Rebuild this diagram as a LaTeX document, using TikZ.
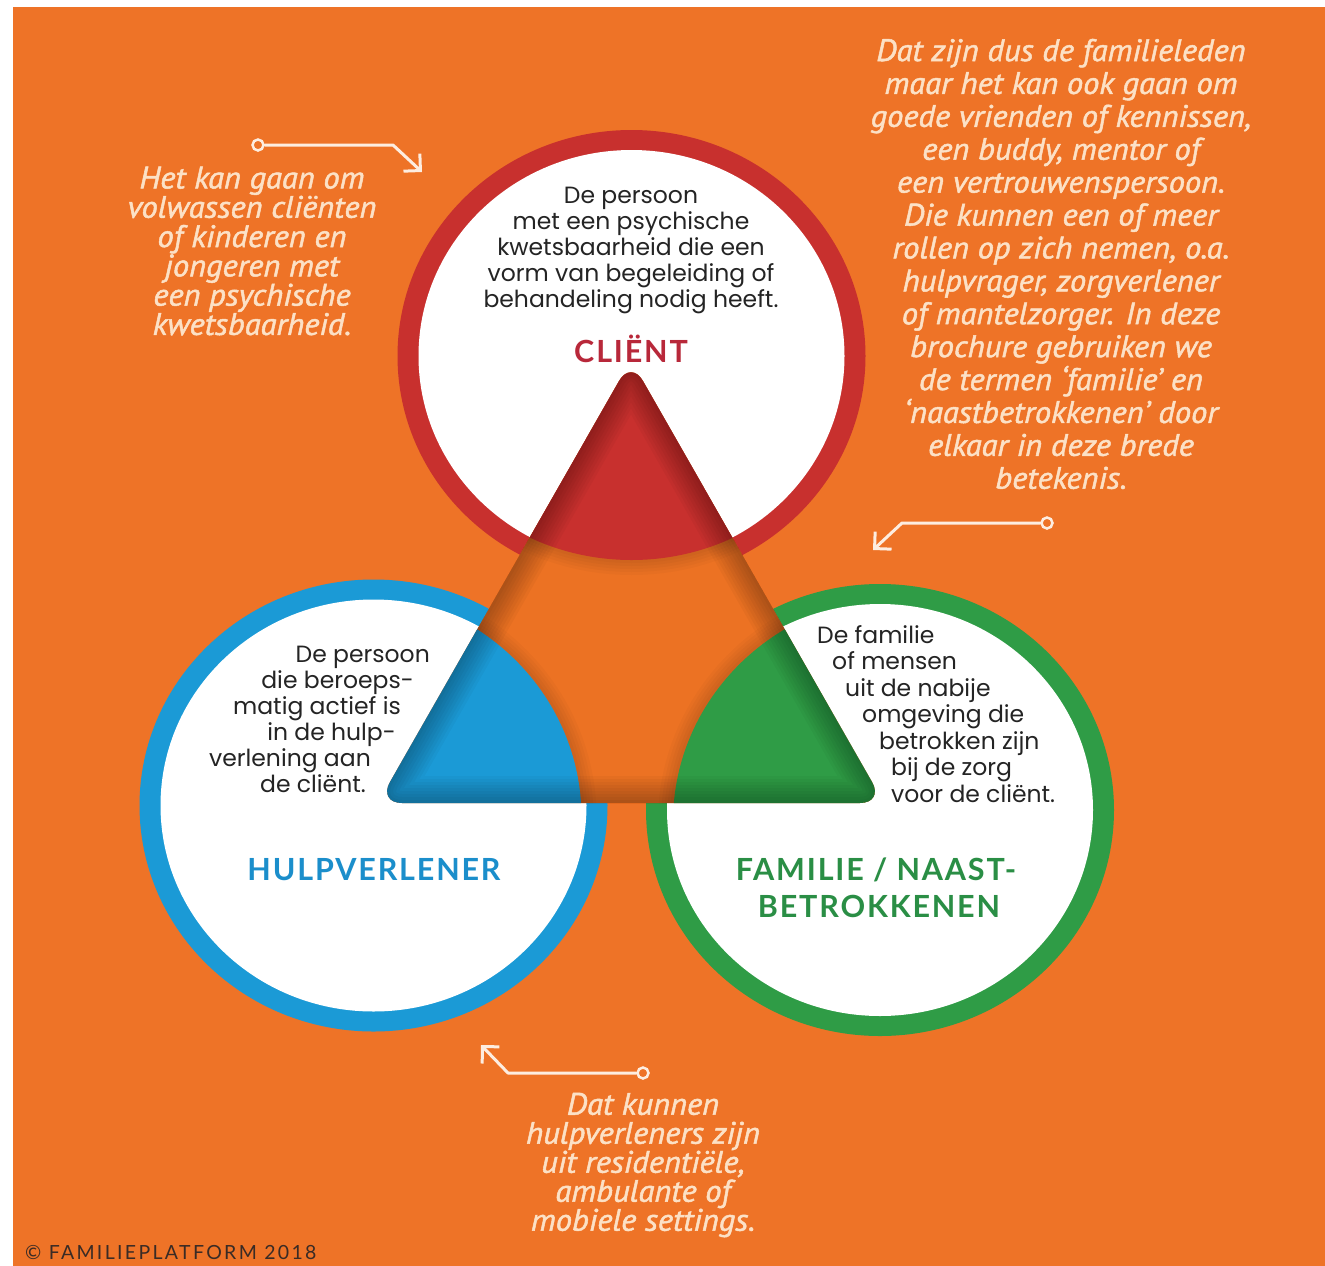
\documentclass[tikz,border=0pt]{standalone}
\usepackage{fontspec}
\usetikzlibrary{arrows.meta}
\newfontfamily\bodyf{Poppins}
\newfontfamily\titlef{Lato}[LetterSpace=6]
\newfontfamily\annotf{PT Sans}[FakeStretch=1.05,ItalicFeatures={FakeBold=1.6}]
\newfontfamily\copyf{Lato}[LetterSpace=12]
\definecolor{bgor}{HTML}{EE7327}
\definecolor{trior}{HTML}{EC7223}
\definecolor{cred}{HTML}{C8302E}
\definecolor{cblue}{HTML}{1B9AD6}
\definecolor{cgreen}{HTML}{2F9C46}
\definecolor{tred}{HTML}{B8283A}
\definecolor{tblue}{HTML}{1B8ECB}
\definecolor{tgreen}{HTML}{2A8E45}
\definecolor{peach}{HTML}{FCE1C6}
\definecolor{arrw}{HTML}{FDEDE0}
\definecolor{ink}{HTML}{242424}
\definecolor{copyc}{HTML}{3A2B25}
\tikzset{
  bodytxt/.style={inner sep=0pt, text=ink, font=\bodyf\fontsize{23.5}{26}\selectfont},
  titletxt/.style={inner sep=0pt, font=\titlef\bfseries\fontsize{30.5}{37}\selectfont},
  annot/.style={inner sep=0pt, align=center, text=peach, font=\annotf\itshape\fontsize{31}{29.3}\selectfont},
  dotstart/.style={circle, draw=arrw, fill=bgor, line width=2.5pt, minimum size=11pt, inner sep=0pt},
  pointer/.style={draw=arrw, line width=3pt, line cap=round, line join=round, -{Straight Barb[length=12pt,width=24pt]}},
  ring/.style={x radius=234pt, y radius=226pt},
  inner/.style={x radius=213pt, y radius=206pt}
}
\begin{document}
\begin{tikzpicture}[x=1pt,y=-1pt]
\useasboundingbox (0,0) rectangle (1325,1266);
\fill[white] (0,0) rectangle (1325,1266);
\fill[bgor] (13,7) rectangle (1325,1266);

% circles
\fill[cred] (631.5,356) ellipse [ring];
\fill[white] (631.5,356) ellipse [inner];
\fill[cblue] (373.5,805.5) ellipse [ring];
\fill[white] (373.5,805.5) ellipse [inner];
\fill[cgreen] (880,810) ellipse [ring];
\fill[white] (880,810) ellipse [inner];

% triangle
\def\tripath{(631,803) -- (884,803) -- (631,360) -- (378,803) -- cycle}
\begin{scope}
  \clip[rounded corners=24pt] \tripath;
  \fill[trior] (300,300) rectangle (950,850);
  % soft shadows of the disks
  \foreach \d in {3,6,9,12,15} {
    \fill[black, opacity=0.025] (631.5,334) ellipse [x radius={234pt+\d pt}, y radius={226pt+\d pt}];
    \fill[black, opacity=0.025] (347.5,817.5) ellipse [x radius={234pt+\d pt}, y radius={226pt+\d pt}];
    \fill[black, opacity=0.025] (907,822) ellipse [x radius={234pt+\d pt}, y radius={226pt+\d pt}];
  }
  \fill[cred] (631.5,334) ellipse [ring];
  \fill[cblue] (347.5,817.5) ellipse [ring];
  \fill[cgreen] (907,822) ellipse [ring];
  % inner shadow along the edges
  \foreach \w in {6,12,...,54} {
    \draw[black, opacity=0.03, line width=\w pt, rounded corners=24pt] \tripath;
  }
\end{scope}

% client text
\node[bodytxt, anchor=base] (c1) at (631,203) {De persoon};
\node[bodytxt, anchor=base] (c2) at (631,229) {met een psychische};
\node[bodytxt, anchor=base] (c3) at (631,255) {kwetsbaarheid die een};
\node[bodytxt, anchor=base] (c4) at (631,281) {vorm van begeleiding of};
\node[bodytxt, anchor=base] (c5) at (631,307) {behandeling nodig heeft.};
\node[titletxt, text=tred, anchor=base] (ctitle) at (631,362) {CLIËNT};

% hulpverlener text
\node[bodytxt, anchor=base east] (h1) at (430,662) {De persoon};
\node[bodytxt, anchor=base east] (h2) at (414,688) {die beroeps-};
\node[bodytxt, anchor=base east] (h3) at (401,714) {matig actief is};
\node[bodytxt, anchor=base east] (h4) at (396,740) {in de hulp-};
\node[bodytxt, anchor=base east] (h5) at (371,766) {verlening aan};
\node[bodytxt, anchor=base east] (h6) at (366,792) {de cliënt.};
\node[titletxt, text=tblue, anchor=base] (htitle) at (374,880) {HULPVERLENER};

% familie text
\node[bodytxt, anchor=base west] (f1) at (817,643) {De familie};
\node[bodytxt, anchor=base west] (f2) at (832,669.5) {of mensen};
\node[bodytxt, anchor=base west] (f3) at (845,696) {uit de nabije};
\node[bodytxt, anchor=base west] (f4) at (862,722.5) {omgeving die};
\node[bodytxt, anchor=base west] (f5) at (879,749) {betrokken zijn};
\node[bodytxt, anchor=base west] (f6) at (891,775.5) {bij de zorg};
\node[bodytxt, anchor=base west] (f7) at (891,802) {voor de cliënt.};
\node[titletxt, text=tgreen, anchor=base] (ftitle1) at (876,880) {FAMILIE / NAAST-};
\node[titletxt, text=tgreen, anchor=base] (ftitle2) at (879,917) {BETROKKENEN};

% annotations
\node[annot] (aleft) at (252,251) {Het kan gaan om\\volwassen cliënten\\of kinderen en\\jongeren met\\een psychische\\kwetsbaarheid.};
\node[annot, font=\annotf\itshape\fontsize{31}{32.9}\selectfont] (aright) at (1061,264) {Dat zijn dus de familieleden\\maar het kan ook gaan om\\goede vrienden of kennissen,\\een buddy, mentor of\\een vertrouwenspersoon.\\Die kunnen een of meer\\rollen op zich nemen, o.a.\\hulpvrager, zorgverlener\\of mantelzorger. In deze\\brochure gebruiken we\\de termen ‘familie’ en\\‘naastbetrokkenen’ door\\elkaar in deze brede\\betekenis.};
\node[annot, font=\annotf\itshape\fontsize{31}{29}\selectfont] (abottom) at (643,1165) {Dat kunnen\\hulpverleners zijn\\uit residentiële,\\ambulante of\\mobiele settings.};

% pointers
\node[dotstart] (p1s) at (258,145) {};
\coordinate (p1m) at (393,145);
\coordinate (p1e) at (422,172);
\draw[pointer] (p1s) -- (p1m) -- (p1e);

\node[dotstart] (p2s) at (1047,523) {};
\coordinate (p2m) at (902,523);
\coordinate (p2e) at (873,550);
\draw[pointer] (p2s) -- (p2m) -- (p2e);

\node[dotstart] (p3s) at (643,1073) {};
\coordinate (p3m) at (508,1073);
\coordinate (p3e) at (481,1045);
\draw[pointer] (p3s) -- (p3m) -- (p3e);

% copyright
\node[anchor=base west, inner sep=0pt, text=copyc, font=\copyf\fontsize{19.5}{22}\selectfont] (copy) at (25,1259) {© FAMILIEPLATFORM 2018};
\end{tikzpicture}
\end{document}
